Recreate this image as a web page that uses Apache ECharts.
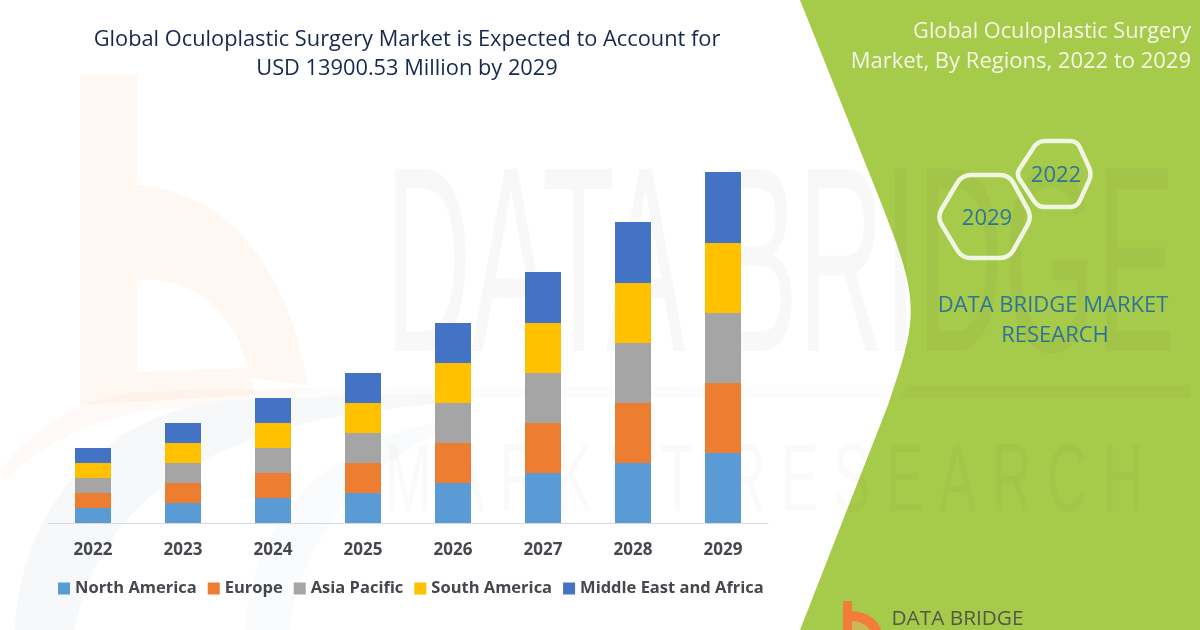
<!DOCTYPE html>
<html>
<head>
<meta charset="utf-8">
<title>Global Oculoplastic Surgery Market</title>
<script src="https://cdn.jsdelivr.net/npm/echarts@6/dist/echarts.min.js"></script>
<style>
  html, body { margin: 0; padding: 0; background: #fff; }
  #chart { width: 1200px; height: 630px; }
</style>
</head>
<body>
<div id="chart"></div>
<script>
// chart data
var years = ["2022", "2023", "2024", "2025", "2026", "2027", "2028", "2029"];
var northAmerica = [1.5, 2, 2.5, 3, 4, 5, 6, 7];
var europe = [1.5, 2, 2.5, 3, 4, 5, 6, 7];
var asiaPacific = [1.5, 2, 2.5, 3, 4, 5, 6, 7];
var southAmerica = [1.5, 2, 2.5, 3, 4, 5, 6, 7];
var middleEastAfrica = [1.5, 2, 2.5, 3, 4, 5.1, 6.1, 7.1];

var regionNames = ["North America", "Europe", "Asia Pacific", "South America", "Middle East and Africa"];
var regionValues = [northAmerica, europe, asiaPacific, southAmerica, middleEastAfrica];
var regionColors = ["#5b9bd5", "#ed7d31", "#a5a5a5", "#ffc000", "#4472c4"];

var labelFont = "Open Sans";
var labelColor = "#45474d";

// small helper for the free text on the page
function label(text, x, y, size, color, align) {
    return {
        type: "text", x: x, y: y, z: 5, silent: true,
        style: {
            text: text, fill: color, fontSize: size, fontFamily: labelFont,
            align: align || "center", verticalAlign: "middle"
        }
    };
}

// hexagon outline with rounded corners
function hexPath(pts, r) {
    var d = "";
    for (var i = 0; i < pts.length; i++) {
        var p = pts[i], a = pts[(i + 5) % 6], b = pts[(i + 1) % 6];
        var la = Math.hypot(a[0] - p[0], a[1] - p[1]), lb = Math.hypot(b[0] - p[0], b[1] - p[1]);
        var s = [p[0] + (a[0] - p[0]) * r / la, p[1] + (a[1] - p[1]) * r / la];
        var e = [p[0] + (b[0] - p[0]) * r / lb, p[1] + (b[1] - p[1]) * r / lb];
        d += (i ? "L" : "M") + s[0] + " " + s[1] + "Q" + p[0] + " " + p[1] + " " + e[0] + " " + e[1];
    }
    return d + "Z";
}

// the graphic component has no plain path type, so each outline is registered as a shape
var shapeCount = 0;
function shape(d, z, style) {
    var name = "pageShape" + (shapeCount++);
    echarts.graphic.registerShape(name, echarts.graphic.extendPath(d, {}));
    return { type: name, z: z, silent: true, style: style };
}

var backdrop = [
    // faded logo behind the bars
    shape("M80 75L137 75L137 185C215 190 285 250 308 385L250 378C240 320 200 275 137 280L137 372L250 368L255 395L80 405Z", 0, { fill: "#fff7f2" }),
    shape("M0 470C40 420 90 395 140 392L300 388L300 398L150 410C90 420 40 445 5 480Z", 0, { fill: "rgba(250,190,150,0.07)" }),
    shape("M300 388L780 385L1190 385L1190 398L300 398Z", 0, { fill: "rgba(90,90,90,0.018)" }),
    shape("M15 630C20 520 90 415 230 400L470 392L470 402C300 410 110 450 75 630Z", 0, { fill: "#f6f8fa" }),
    shape("M245 630C250 530 320 440 450 420L470 420C380 450 300 530 290 630Z", 0, { fill: "#fafbfc" }),
    // green panel
    shape("M800 0L882 205C897 245 915 285 910 325C907 350 898 375 888 405L800 630L1200 630L1200 0Z", 1, { fill: "#a6ca4a" }),
    // band and logo mark at the bottom
    shape("M910 385L1190 385L1190 398L900 398Z", 2, { fill: "rgba(90,90,60,0.03)" }),
    shape("M843 601L852 601L852 611C868 612 878 620 881 630L843 630Z", 2, { fill: "#f47b3a" }),
    shape("M852 621C860 621 867 625 870 630L852 630Z", 2, { fill: "#c9b957" }),
    // hexagons
    shape(hexPath([[937, 217], [962, 175], [1009, 175], [1032, 217], [1009, 258], [962, 258]], 9), 3, { fill: "none", stroke: "#f1f6e4", lineWidth: 4.5 }),
    shape(hexPath([[1016, 174], [1038, 141], [1077, 141], [1092, 174], [1077, 207], [1038, 207]], 7), 3, { fill: "none", stroke: "#f1f6e4", lineWidth: 4.5 }),
    // faded lettering across the page
    {
        type: "text", x: 385, y: 278, z: 2, scaleX: 0.45, silent: true,
        style: { text: "DATA BRIDGE", fontSize: 265, fontFamily: "Liberation Sans", fill: "rgba(60,60,60,0.035)", align: "left", verticalAlign: "middle" }
    },
    {
        type: "text", x: 385, y: 485, z: 2, scaleX: 0.58, silent: true,
        style: { text: "M A R K E T  R E S E A R C H", fontSize: 96, fontFamily: "Liberation Sans", fill: "rgba(60,60,60,0.028)", align: "left", verticalAlign: "middle" }
    }
];

var panelText = [
    label("Global Oculoplastic Surgery", 1191, 32, 21.7, "#f3f7e6", "right"),
    label("Market, By Regions, 2022 to 2029", 1191, 62, 22, "#f3f7e6", "right"),
    label("2029", 987, 219, 22, "#2f7598"),
    label("2022", 1056, 176, 22, "#2f7598"),
    label("DATA BRIDGE MARKET", 1053, 306, 22, "#2f7598"),
    label("RESEARCH", 1055, 336, 22, "#2f7598"),
    label("DATA BRIDGE", 957.5, 619, 20.8, "#4f5b48")
];

var series = regionNames.map(function (name, i) {
    return {
        name: name,
        type: "bar",
        stack: "total",
        barWidth: 36,
        data: regionValues[i],
        itemStyle: { color: regionColors[i] },
        silent: true
    };
});

var myChart = echarts.init(document.getElementById("chart"), null, { renderer: "canvas" });
myChart.setOption({
    animation: false,
    backgroundColor: "#ffffff",
    color: regionColors,
    title: {
        text: "Global Oculoplastic Surgery Market is Expected to Account for\nUSD 13900.53 Million by 2029",
        left: 402,
        top: 20,
        textAlign: "center",
        textStyle: { color: "#15294f", fontFamily: labelFont, fontSize: 21.8, fontWeight: "normal", lineHeight: 29 }
    },
    legend: {
        data: regionNames,
        left: 58,
        top: 580,
        padding: 0,
        itemWidth: 12,
        itemHeight: 12,
        itemGap: 11,
        icon: "rect",
        textStyle: { color: labelColor, fontFamily: labelFont, fontSize: 16.5, fontWeight: "bold" }
    },
    grid: { left: 48, right: 432, top: 123, bottom: 107 },
    xAxis: {
        type: "category",
        data: years,
        axisTick: { show: false },
        axisLine: { lineStyle: { color: "#d9d9e0", width: 1 } },
        axisLabel: { color: labelColor, fontFamily: labelFont, fontSize: 17, fontWeight: "bold", margin: 19 }
    },
    yAxis: { type: "value", min: 0, max: 40, show: false },
    series: series,
    graphic: { elements: backdrop.concat(panelText) }
});
</script>
</body>
</html>
